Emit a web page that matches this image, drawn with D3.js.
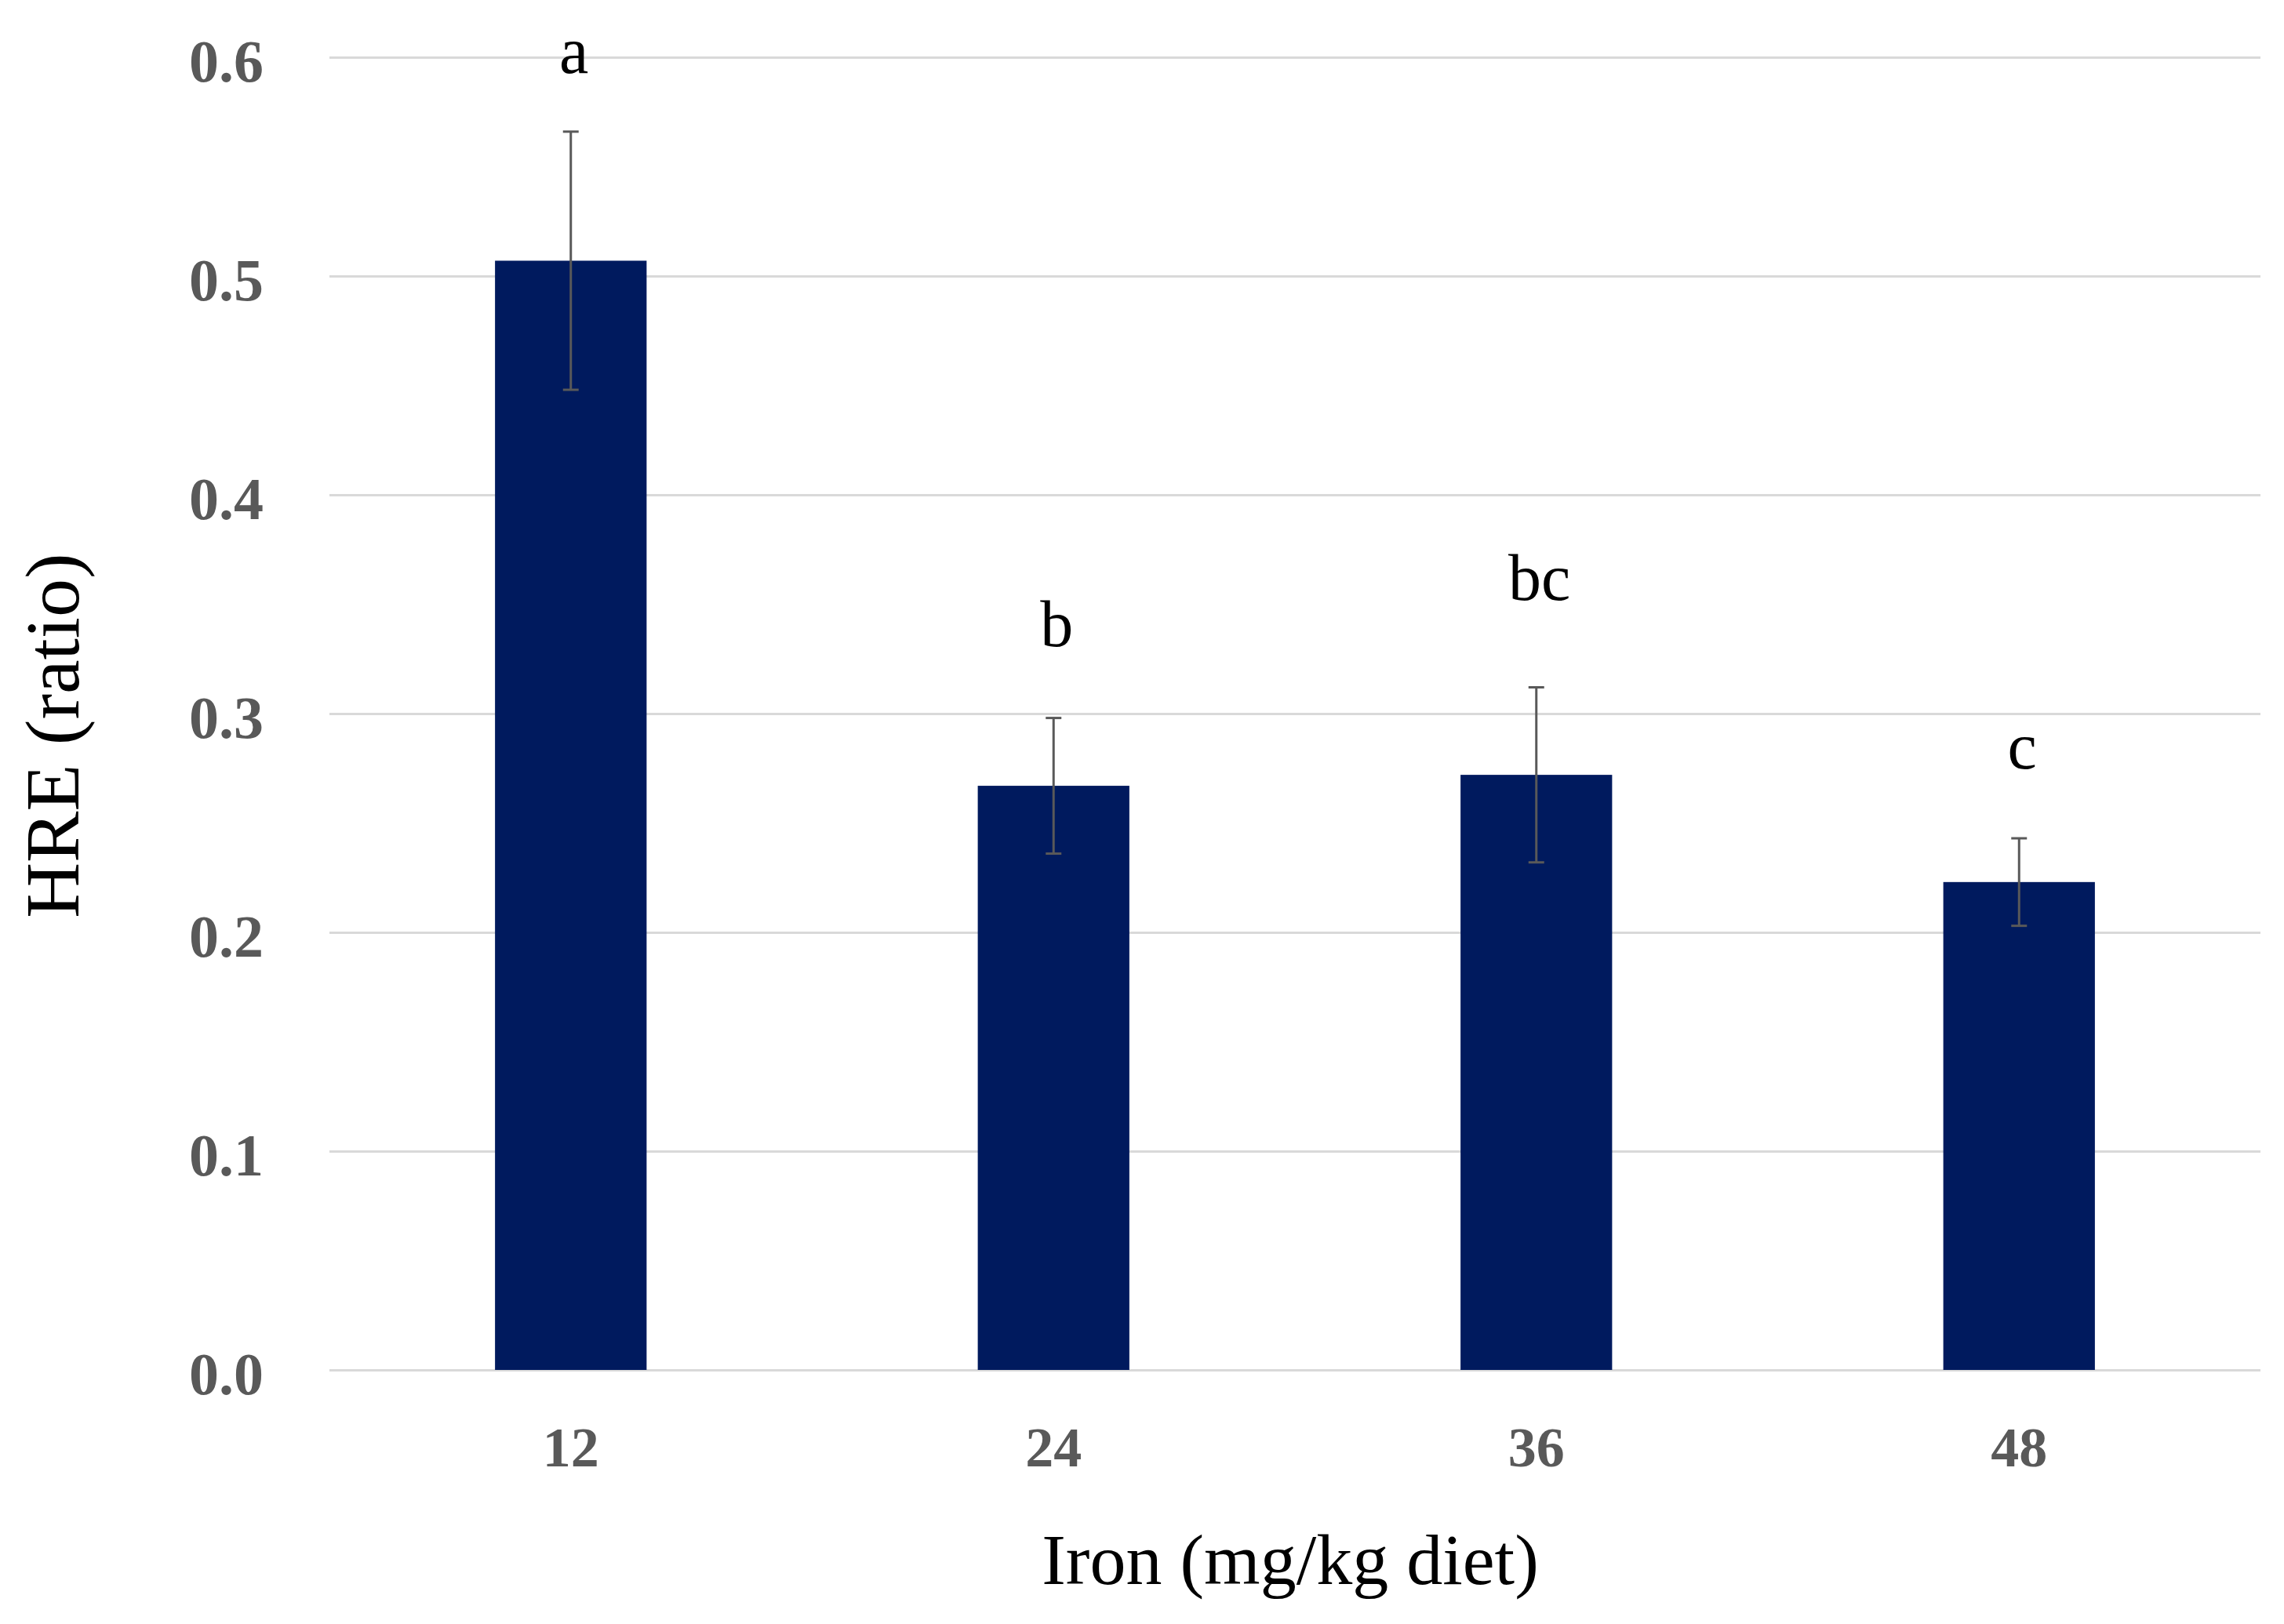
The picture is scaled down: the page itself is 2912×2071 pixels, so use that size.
<!DOCTYPE html>
<html>
<head>
<meta charset="utf-8">
<script src="https://cdn.jsdelivr.net/npm/d3@7"></script>
<style>
  html, body { margin: 0; padding: 0; background: #ffffff; }
  svg { display: block; }
</style>
</head>
<body>
<script>
// ---- data ----
const categories = ["12", "24", "36", "48"];
const means = [0.507, 0.267, 0.272, 0.223];
const errors = [0.059, 0.031, 0.040, 0.020];
const letters = ["a", "b", "bc", "c"];
const letterValues = [0.593, 0.331, 0.352, 0.275];
const yTicks = [0.0, 0.1, 0.2, 0.3, 0.4, 0.5, 0.6];
const xTitle = "Iron (mg/kg diet)";
const yTitle = "HRE (ratio)";

// ---- layout ----
const W = 2912, H = 2071;
const plot = { left: 420, right: 2882, top: 73, bottom: 1747 };
const serif = "'Liberation Serif', 'Times New Roman', serif";

const svg = d3.select("body").append("svg")
  .attr("width", W).attr("height", H)
  .style("background", "#ffffff");

const x = d3.scaleBand()
  .domain(categories)
  .range([plot.left, plot.right])
  .paddingInner(0.686)
  .paddingOuter(0.343);

const y = d3.scaleLinear()
  .domain([0, 0.6])
  .range([plot.bottom, plot.top]);

// gridlines
const yAxis = d3.axisLeft(y)
  .tickValues(yTicks)
  .tickSize(-(plot.right - plot.left))
  .tickFormat(d3.format(".1f"))
  .tickPadding(84);

const gy = svg.append("g")
  .attr("transform", `translate(${plot.left},0)`)
  .call(yAxis);
gy.select(".domain").remove();
gy.selectAll(".tick line")
  .attr("stroke", "#d9d9d9")
  .attr("stroke-width", 3);
gy.selectAll(".tick text")
  .attr("font-family", serif)
  .attr("font-weight", "bold")
  .attr("font-size", 76)
  .attr("fill", "#595959")
  .attr("dy", "0.40em");

// bars
const cx = d => x(categories[d]) + x.bandwidth() / 2;
const idx = d3.range(categories.length);

svg.append("g").selectAll("rect")
  .data(idx)
  .join("rect")
  .attr("x", d => x(categories[d]))
  .attr("width", x.bandwidth())
  .attr("y", d => y(means[d]))
  .attr("height", d => y(0) - y(means[d]))
  .attr("fill", "#001a5e");

// error bars
const capHalf = 10;
const eg = svg.append("g")
  .attr("stroke", "#595959")
  .attr("stroke-width", 3)
  .attr("fill", "none");
eg.selectAll("line.v")
  .data(idx).join("line").attr("class", "v")
  .attr("x1", cx).attr("x2", cx)
  .attr("y1", d => y(means[d] + errors[d]))
  .attr("y2", d => y(means[d] - errors[d]));
eg.selectAll("line.t")
  .data(idx).join("line").attr("class", "t")
  .attr("x1", d => cx(d) - capHalf).attr("x2", d => cx(d) + capHalf)
  .attr("y1", d => y(means[d] + errors[d]))
  .attr("y2", d => y(means[d] + errors[d]));
eg.selectAll("line.b")
  .data(idx).join("line").attr("class", "b")
  .attr("x1", d => cx(d) - capHalf).attr("x2", d => cx(d) + capHalf)
  .attr("y1", d => y(means[d] - errors[d]))
  .attr("y2", d => y(means[d] - errors[d]));

// significance letters
svg.append("g").selectAll("text")
  .data(idx).join("text")
  .attr("x", d => cx(d) + 4)
  .attr("y", d => y(letterValues[d]))
  .attr("text-anchor", "middle")
  .attr("font-family", serif)
  .attr("font-size", 84)
  .attr("fill", "#000000")
  .text(d => letters[d]);

// x axis labels
const xAxis = d3.axisBottom(x).tickSize(0).tickPadding(0);
const gx = svg.append("g")
  .attr("transform", `translate(0,${plot.bottom})`)
  .call(xAxis);
gx.select(".domain").remove();
gx.selectAll(".tick text")
  .attr("font-family", serif)
  .attr("font-weight", "bold")
  .attr("font-size", 72)
  .attr("fill", "#595959")
  .attr("dy", null)
  .attr("y", 123);

// axis titles
svg.append("text")
  .attr("x", (plot.left + plot.right) / 2 - 6)
  .attr("y", 2020)
  .attr("text-anchor", "middle")
  .attr("font-family", serif)
  .attr("font-size", 92)
  .attr("fill", "#000000")
  .text(xTitle);

svg.append("text")
  .attr("transform", `translate(100,938) rotate(-90)`)
  .attr("text-anchor", "middle")
  .attr("font-family", serif)
  .attr("font-size", 98)
  .attr("fill", "#000000")
  .text(yTitle);
</script>
</body>
</html>
